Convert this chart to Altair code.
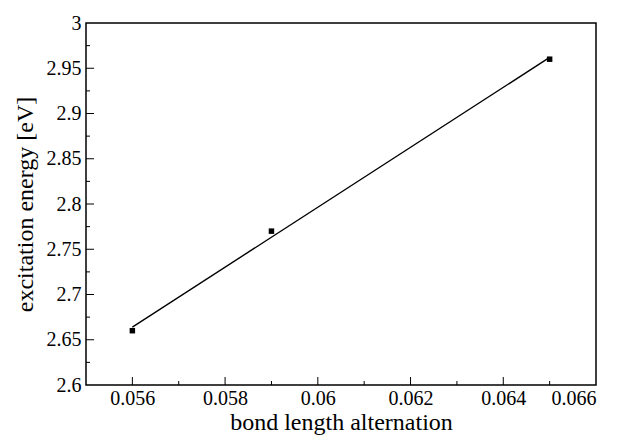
import altair as alt
import pandas as pd

# data
bla = [0.056, 0.059, 0.065]
energy = [2.66, 2.77, 2.96]
fit_bla = [0.056, 0.065]
fit_energy = [2.664, 2.962]

x_labels = [0.056, 0.058, 0.060, 0.062, 0.064, 0.066]
y_labels = [2.6, 2.65, 2.7, 2.75, 2.8, 2.85, 2.9, 2.95, 3.0]
x_major = [0.056, 0.058, 0.060, 0.062, 0.064]
x_minor = [0.057, 0.059, 0.061, 0.063, 0.065]
y_major = [2.65, 2.7, 2.75, 2.8, 2.85, 2.9, 2.95]
y_minor = [2.625, 2.675, 2.725, 2.775, 2.825, 2.875, 2.925, 2.975]

pts = pd.DataFrame({"bla": bla, "energy": energy})
fit = pd.DataFrame({"bla": fit_bla, "energy": fit_energy})

W, H = 510, 362
FONT = "Liberation Serif"

xs = alt.Scale(domain=[0.055, 0.066], nice=False, zero=False)
ys = alt.Scale(domain=[2.6, 3.0], nice=False, zero=False)

x_axis = alt.Axis(values=x_labels, format=".3~f", ticks=False, domain=False, grid=False,
                  labelPadding=3, labelFont=FONT, labelFontSize=20,
                  title="bond length alternation", titleFont=FONT, titleFontSize=24,
                  titleFontWeight="normal", titlePadding=2)
y_axis = alt.Axis(values=y_labels, format=".2~f", ticks=False, domain=False, grid=False,
                  labelPadding=5, labelFont=FONT, labelFontSize=20,
                  title="excitation energy [eV]", titleFont=FONT, titleFontSize=24,
                  titleFontWeight="normal", titlePadding=9)

X = alt.X("bla:Q", scale=xs, axis=x_axis)
Y = alt.Y("energy:Q", scale=ys, axis=y_axis)

xmaj = alt.Chart(pd.DataFrame({"bla": x_major})).mark_rule(color="black", strokeWidth=1).encode(
    x=X, y=alt.value(H), y2=alt.value(H - 8))
xmin = alt.Chart(pd.DataFrame({"bla": x_minor})).mark_rule(color="black", strokeWidth=1).encode(
    x=X, y=alt.value(H), y2=alt.value(H - 4))
ymaj = alt.Chart(pd.DataFrame({"energy": y_major})).mark_rule(color="black", strokeWidth=1).encode(
    y=Y, x=alt.value(0), x2=alt.value(8))
ymin = alt.Chart(pd.DataFrame({"energy": y_minor})).mark_rule(color="black", strokeWidth=1).encode(
    y=Y, x=alt.value(0), x2=alt.value(4))

line = alt.Chart(fit).mark_line(color="black", strokeWidth=1.4).encode(x=X, y=Y)
points = alt.Chart(pts).mark_square(size=30, color="black", opacity=1).encode(x=X, y=Y)

chart = alt.layer(xmaj, xmin, ymaj, ymin, line, points).properties(
    width=W, height=H,
).configure_view(stroke="black", strokeWidth=1.5)

chart.save("out.html", embed_options={"renderer": "svg", "actions": False})
